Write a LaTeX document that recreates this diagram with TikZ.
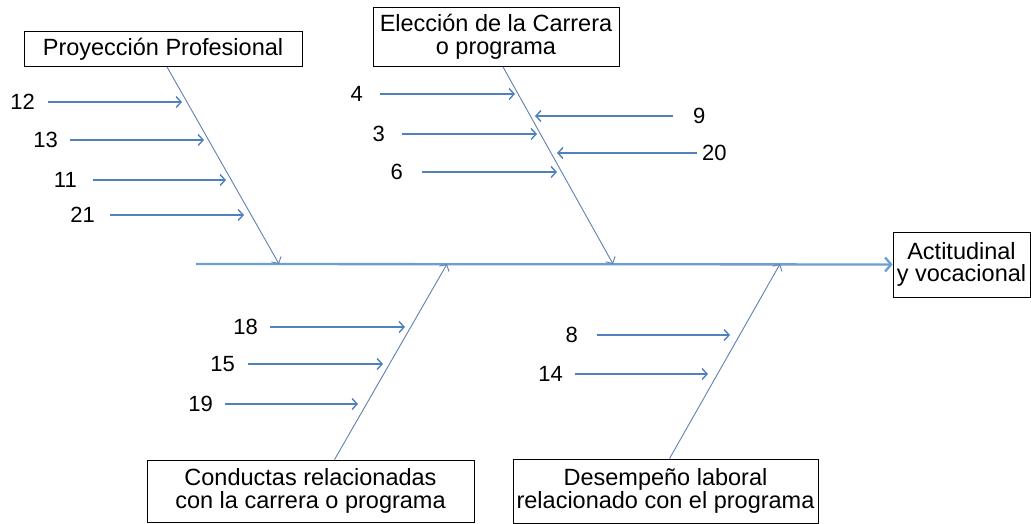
\documentclass[tikz,border=0pt]{standalone}
\usepackage{fontspec}
\setmainfont{Liberation Sans}
\usetikzlibrary{arrows.meta}
\definecolor{subblue}{RGB}{79,129,189}
\definecolor{boneblue}{RGB}{96,128,176}
\definecolor{spineblue}{RGB}{108,158,212}
\begin{document}
\begin{tikzpicture}[x=1pt,y=-1pt,
  txt/.style={font=\fontsize{22}{22}\selectfont},
  catbox/.style={font=\fontsize{23.5}{22.5}\selectfont,draw=black,line width=0.8pt,fill=white,align=center,inner sep=0pt},
  num/.style={txt,inner sep=0pt},
  sub/.style={draw=subblue,line width=1.4pt,-{Straight Barb[length=5pt,width=11pt]}},
  bone/.style={draw=boneblue,line width=0.9pt,-{Straight Barb[length=5pt,width=11pt]}},
  spine/.style={draw=spineblue,line width=2.3pt,-{Straight Barb[length=6pt,width=14pt]}}]
\useasboundingbox (0,0) rectangle (1031,523);
% category boxes
\node[catbox,minimum width=278,minimum height=35] (prof) at (163,49) {Proyección Profesional};
\node[catbox,minimum width=246,minimum height=59] (elec) at (496,37) {Elección de la Carrera\\o programa};
\node[catbox,minimum width=137,minimum height=65] (act) at (961.5,264.5) {Actitudinal\\y vocacional};
\node[catbox,minimum width=327,minimum height=62] (cond) at (310.5,491) {Conductas relacionadas\\con la carrera o programa};
\node[catbox,minimum width=305,minimum height=64] (des) at (665.5,491) {Desempeño laboral\\relacionado con el programa};
% spine
\coordinate (s0) at (196,264);
\coordinate (j1) at (279,264);
\coordinate (j2) at (613,264);
\coordinate (j3) at (447,264);
\coordinate (j4) at (780,264);
\draw[spine] (s0) -- (act);
% bones
\draw[bone] ([xshift=4]prof.south) -- (j1);
\draw[bone] ([xshift=7]elec.south) -- (j2);
\draw[bone] ([xshift=24]cond.north) -- (j3);
\draw[bone] ([xshift=4]des.north) -- (j4);
% Proyeccion
\node[num,anchor=east] (n12) at (35,102) {12};
\node[num,anchor=east] (n13) at (58,140) {13};
\node[num,anchor=east] (n11) at (77,180) {11};
\node[num,anchor=east] (n21) at (95,215) {21};
\coordinate (t12) at (182,102);
\coordinate (t13) at (204,140);
\coordinate (t11) at (226,180);
\coordinate (t21) at (244,215);
\draw[sub,shorten <=13pt] (n12.east) -- (t12);
\draw[sub,shorten <=12pt] (n13.east) -- (t13);
\draw[sub,shorten <=16pt] (n11.east) -- (t11);
\draw[sub,shorten <=15pt] (n21.east) -- (t21);
% Eleccion
\node[num,anchor=east] (n4) at (363,94) {4};
\node[num,anchor=east] (n3) at (385,134) {3};
\node[num,anchor=east] (n6) at (403,172) {6};
\node[num,anchor=west] (n9) at (693,116) {9};
\node[num,anchor=west] (n20) at (702,153) {20};
\coordinate (t4) at (515,94);
\coordinate (t3) at (537,134);
\coordinate (t6) at (557,172);
\coordinate (t9) at (535,116);
\coordinate (t20) at (557,153);
\draw[sub,shorten <=17pt] (n4.east) -- (t4);
\draw[sub,shorten <=17pt] (n3.east) -- (t3);
\draw[sub,shorten <=19pt] (n6.east) -- (t6);
\draw[sub,shorten <=20pt] (n9.west) -- (t9);
\draw[sub,shorten <=5pt] (n20.west) -- (t20);
% Conductas
\node[num,anchor=east] (n18) at (258,327) {18};
\node[num,anchor=east] (n15) at (235,364) {15};
\node[num,anchor=east] (n19) at (213,404) {19};
\coordinate (t18) at (405,327);
\coordinate (t15) at (383,364);
\coordinate (t19) at (358,404);
\draw[sub,shorten <=12pt] (n18.east) -- (t18);
\draw[sub,shorten <=13pt] (n15.east) -- (t15);
\draw[sub,shorten <=12pt] (n19.east) -- (t19);
% Desempeno
\node[num,anchor=east] (n8) at (578,335) {8};
\node[num,anchor=east] (n14) at (563,374) {14};
\coordinate (t8) at (730,335);
\coordinate (t14) at (708,374);
\draw[sub,shorten <=19pt] (n8.east) -- (t8);
\draw[sub,shorten <=12pt] (n14.east) -- (t14);
\end{tikzpicture}
\end{document}
